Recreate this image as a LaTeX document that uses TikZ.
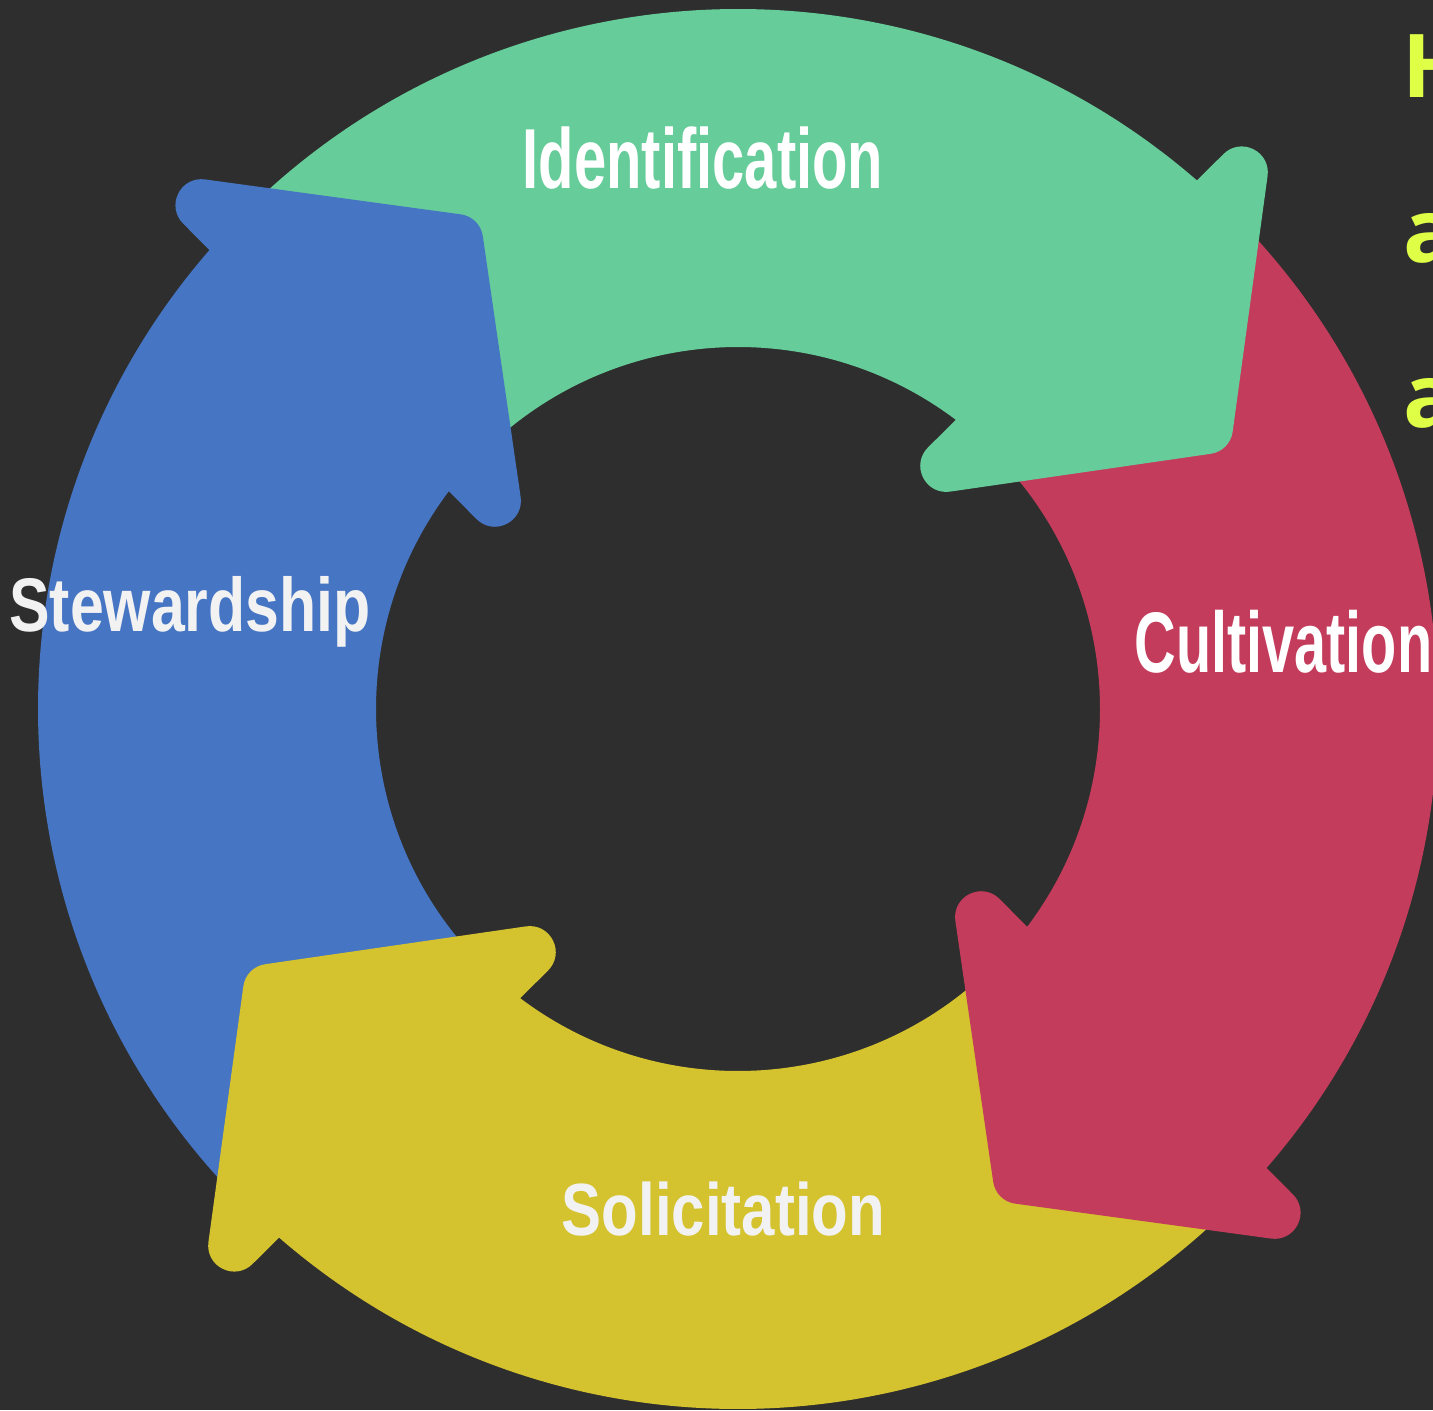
\documentclass[tikz,border=0pt]{standalone}
\usepackage{fontspec}
\usepackage{graphicx}
\setmainfont{Liberation Sans}
\newfontfamily\sidefont{Open Sans}
\definecolor{bgc}{HTML}{2E2E2E}
\definecolor{cgreen}{HTML}{66CC99}
\definecolor{cred}{HTML}{C43C5C}
\definecolor{cyellow}{HTML}{D4C22F}
\definecolor{cblue}{HTML}{4675C4}
\definecolor{clime}{HTML}{DFFF47}
\definecolor{offwhite}{HTML}{F2F2F2}
\newcommand\cyclebody[2]{%
  \begin{scope}[shift={(738,701)}, rotate=#1]
    \fill[#2] (136:700) arc[start angle=136, end angle=49, radius=700]
      -- (49:362) arc[start angle=49, end angle=136, radius=362] -- cycle;
  \end{scope}}
\newcommand\cyclehead[2]{%
  \begin{scope}[shift={(738,701)}, rotate=#1]
    \filldraw[arrhead=#2] (503.8,536.5) -- (468.9,280.9) -- (208.3,243.1) -- cycle;
  \end{scope}}
\begin{document}
\begin{tikzpicture}[x=0.5pt,y=0.5pt,
  arrhead/.style={fill=#1, draw=#1, line width=26pt, line join=round},
  lab/.style={inner sep=0pt, anchor=base, font=\bfseries},
  side/.style={inner sep=0pt, anchor=base west, text=clime, font=\sidefont\bfseries\fontsize{44}{50}\selectfont}]
\fill[bgc] (0,0) rectangle (1433,1410);
\useasboundingbox (0,0) rectangle (1433,1410);
% bodies
\cyclebody{0}{cgreen}
\cyclebody{-90}{cred}
\cyclebody{180}{cyellow}
\cyclebody{90}{cblue}
% heads
\cyclehead{0}{cgreen}
\cyclehead{-90}{cred}
\cyclehead{180}{cyellow}
\cyclehead{90}{cblue}
% labels
\node[lab, text=white] (ident) at (703,1221)
  {\fontsize{42.6}{50}\selectfont\scalebox{0.68}[1]{Identification}};
\node[lab, text=white] (cult) at (1283.5,738)
  {\fontsize{43}{50}\selectfont\scalebox{0.67}[1]{Cultivation}};
\node[lab, text=offwhite] (solic) at (723.5,175)
  {\fontsize{37}{44}\selectfont\scalebox{0.81}[1]{Solicitation}};
\node[lab, text=offwhite] (stew) at (190,778)
  {\fontsize{38}{44}\selectfont\scalebox{0.80}[1]{Stewardship}};
% side text (cut off at the right edge)
\node[side] (s1) at (1402,1312) {H};
\node[side] (s2) at (1403,1147) {a};
\node[side] (s3) at (1403,982) {a};
\end{tikzpicture}
\end{document}
